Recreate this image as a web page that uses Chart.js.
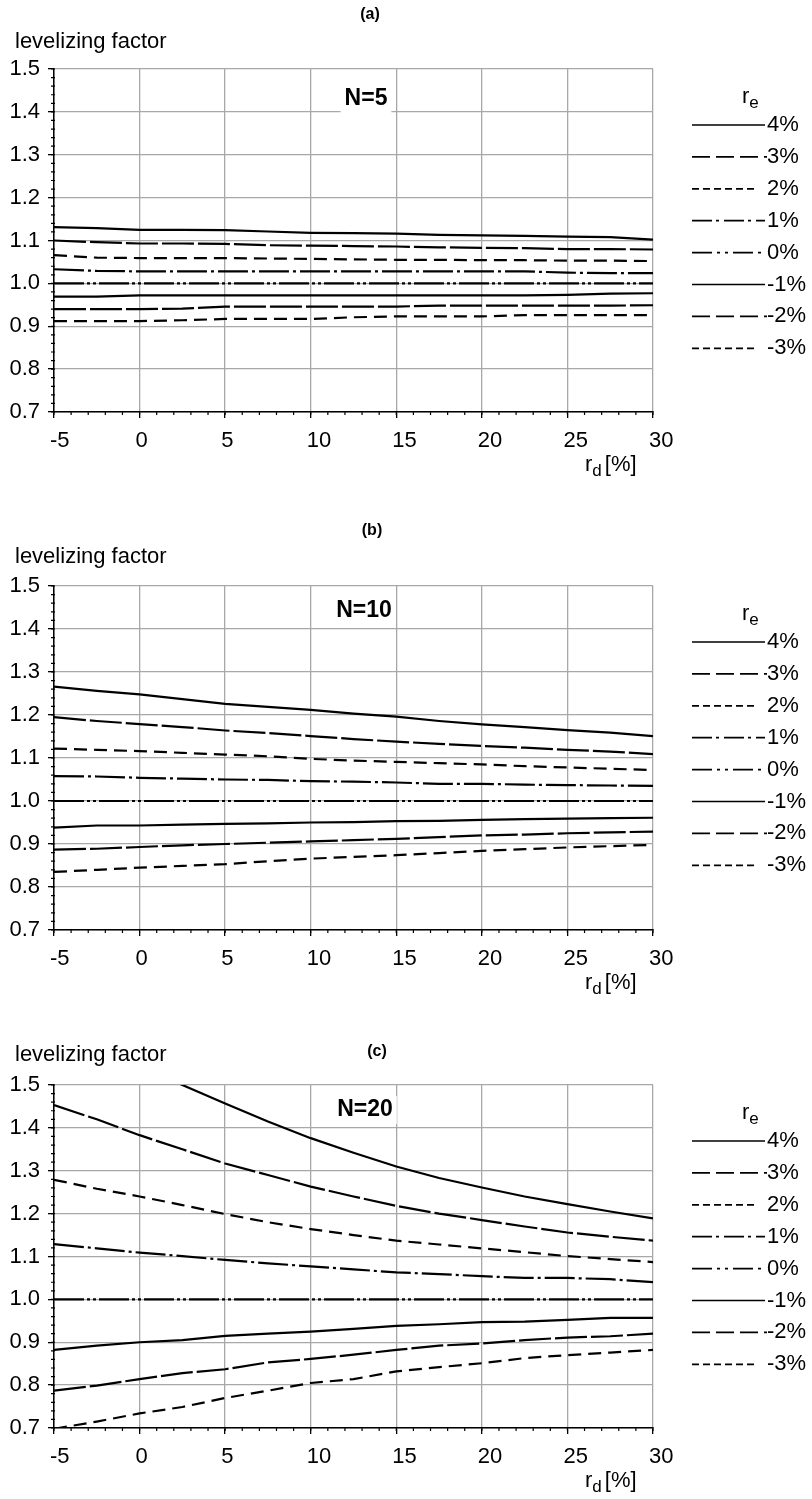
<!DOCTYPE html>
<html>
<head>
<meta charset="utf-8">
<script src="https://cdn.jsdelivr.net/npm/chart.js@4.4.1/dist/chart.umd.min.js"></script>
<style>
  html, body { margin: 0; padding: 0; background: #fff; }
  #wrap { position: relative; width: 812px; height: 1499px; }
  canvas { position: absolute; left: 0; }
</style>
</head>
<body>
<div id="wrap">
  <canvas id="chartA" width="812" height="500" style="top:0px"></canvas>
  <canvas id="chartB" width="812" height="500" style="top:500px"></canvas>
  <canvas id="chartC" width="812" height="499" style="top:1000px"></canvas>
</div>
<script>
// x values (r_d in %)
const rd = [-5, -2.5, 0, 2.5, 5, 7.5, 10, 12.5, 15, 17.5, 20, 22.5, 25, 27.5, 30];
const xTicks = [-5, 0, 5, 10, 15, 20, 25, 30];
const yTicks = [0.7, 0.8, 0.9, 1.0, 1.1, 1.2, 1.3, 1.4, 1.5];
const reLabels = ["4%", "3%", "2%", "1%", "0%", "-1%", "-2%", "-3%"];
const lineStyles = ["solid", "long", "short", "dashDot", "dashDotDot", "solid", "long", "short"];

// (a) N=5
const n5_4 = [1.131, 1.129, 1.125, 1.125, 1.124, 1.121, 1.118, 1.117, 1.116, 1.113, 1.112, 1.111, 1.109, 1.108, 1.102];
const n5_3 = [1.100, 1.096, 1.093, 1.093, 1.092, 1.089, 1.088, 1.087, 1.086, 1.084, 1.083, 1.082, 1.080, 1.080, 1.079];
const n5_2 = [1.066, 1.060, 1.059, 1.059, 1.059, 1.058, 1.057, 1.056, 1.055, 1.055, 1.054, 1.054, 1.053, 1.053, 1.052];
const n5_1 = [1.033, 1.029, 1.028, 1.028, 1.028, 1.028, 1.028, 1.028, 1.028, 1.028, 1.028, 1.028, 1.025, 1.024, 1.024];
const n5_0 = [1.000, 1.000, 1.000, 1.000, 1.000, 1.000, 1.000, 1.000, 1.000, 1.000, 1.000, 1.000, 1.000, 1.000, 1.000];
const n5_m1 = [0.969, 0.969, 0.972, 0.972, 0.972, 0.972, 0.972, 0.972, 0.972, 0.972, 0.972, 0.972, 0.973, 0.976, 0.977];
const n5_m2 = [0.940, 0.940, 0.940, 0.941, 0.946, 0.946, 0.946, 0.946, 0.946, 0.948, 0.948, 0.948, 0.948, 0.948, 0.949];
const n5_m3 = [0.912, 0.912, 0.912, 0.914, 0.917, 0.917, 0.917, 0.921, 0.923, 0.923, 0.923, 0.926, 0.926, 0.926, 0.926];

// (b) N=10
const n10_4 = [1.266, 1.256, 1.248, 1.237, 1.226, 1.219, 1.212, 1.203, 1.196, 1.186, 1.178, 1.172, 1.165, 1.159, 1.151];
const n10_3 = [1.195, 1.186, 1.179, 1.172, 1.164, 1.158, 1.151, 1.144, 1.138, 1.133, 1.128, 1.124, 1.119, 1.115, 1.109];
const n10_2 = [1.122, 1.119, 1.116, 1.112, 1.108, 1.104, 1.098, 1.094, 1.091, 1.088, 1.085, 1.081, 1.078, 1.075, 1.072];
const n10_1 = [1.058, 1.057, 1.054, 1.052, 1.050, 1.049, 1.046, 1.045, 1.043, 1.040, 1.040, 1.038, 1.037, 1.036, 1.035];
const n10_0 = [1.000, 1.000, 1.000, 1.000, 1.000, 1.000, 1.000, 1.000, 1.000, 1.000, 1.000, 1.000, 1.000, 1.000, 1.000];
const n10_m1 = [0.938, 0.943, 0.943, 0.945, 0.947, 0.948, 0.950, 0.951, 0.953, 0.954, 0.956, 0.958, 0.959, 0.960, 0.961];
const n10_m2 = [0.887, 0.889, 0.893, 0.897, 0.900, 0.903, 0.906, 0.909, 0.912, 0.916, 0.920, 0.922, 0.925, 0.927, 0.929];
const n10_m3 = [0.835, 0.840, 0.845, 0.849, 0.853, 0.860, 0.866, 0.870, 0.874, 0.879, 0.884, 0.888, 0.892, 0.895, 0.898];

// (c) N=20
const n20_4 = [1.650, 1.595, 1.545, 1.500, 1.457, 1.415, 1.376, 1.342, 1.310, 1.283, 1.261, 1.240, 1.222, 1.205, 1.189];
const n20_3 = [1.453, 1.420, 1.383, 1.350, 1.317, 1.290, 1.263, 1.240, 1.218, 1.200, 1.185, 1.170, 1.156, 1.146, 1.137];
const n20_2 = [1.279, 1.258, 1.240, 1.220, 1.199, 1.180, 1.164, 1.150, 1.137, 1.128, 1.119, 1.110, 1.101, 1.094, 1.087];
const n20_1 = [1.129, 1.119, 1.109, 1.101, 1.092, 1.084, 1.077, 1.070, 1.063, 1.059, 1.054, 1.050, 1.050, 1.047, 1.040];
const n20_0 = [1.000, 1.000, 1.000, 1.000, 1.000, 1.000, 1.000, 1.000, 1.000, 1.000, 1.000, 1.000, 1.000, 1.000, 1.000];
const n20_m1 = [0.882, 0.892, 0.900, 0.905, 0.915, 0.920, 0.925, 0.931, 0.938, 0.942, 0.947, 0.948, 0.952, 0.957, 0.957];
const n20_m2 = [0.787, 0.799, 0.814, 0.828, 0.837, 0.853, 0.861, 0.871, 0.882, 0.892, 0.897, 0.905, 0.911, 0.914, 0.920];
const n20_m3 = [0.698, 0.715, 0.734, 0.749, 0.770, 0.787, 0.805, 0.814, 0.832, 0.842, 0.851, 0.863, 0.870, 0.876, 0.882];

// dash patterns: in the plot and in the legend
const plotDash = { solid: [], long: [32, 4], short: [13, 7], dashDot: [30, 4, 3, 4], dashDotDot: [30, 3, 3, 3, 3, 3] };
const legendDash = { solid: [], long: [18, 6], short: [7, 4], dashDot: [20, 4, 3, 5], dashDotDot: [20, 5, 3, 5, 3, 5] };
const legendLen = { solid: 73, long: 75, short: 62, dashDot: 73, dashDotDot: 73 };

const FONT = "'Liberation Sans', Arial, Helvetica, sans-serif";
Chart.defaults.font.family = FONT;
Chart.defaults.font.size = 22;
Chart.defaults.color = "#000";

const decor = {
  id: "decor",
  afterDraw(chart, args, o) {
    const ctx = chart.ctx;
    const area = chart.chartArea;
    const xs = chart.scales.x;
    const ys = chart.scales.y;
    ctx.save();

    // minor ticks
    ctx.strokeStyle = "#000";
    ctx.lineWidth = 1.2;
    ctx.beginPath();
    for (let k = 0; k <= 40; k++) {
      const y = ys.getPixelForValue(0.7 + k * 0.02);
      ctx.moveTo(area.left - 3, y);
      ctx.lineTo(area.left + 1, y);
    }
    for (let v = -5; v <= 30; v++) {
      const x = xs.getPixelForValue(v);
      ctx.moveTo(x, area.bottom - 1);
      ctx.lineTo(x, area.bottom + 3);
    }
    ctx.stroke();

    ctx.fillStyle = "#000";
    ctx.textBaseline = "middle";

    // panel tag
    ctx.font = "bold 16px " + FONT;
    ctx.textAlign = "center";
    ctx.fillText(o.tag, o.tagX, o.tagY);

    // y title
    ctx.font = "22px " + FONT;
    ctx.textAlign = "left";
    ctx.fillText("levelizing factor", 15, o.labelY);

    // N label with white box
    ctx.font = "bold 23px " + FONT;
    const nw = ctx.measureText(o.n).width;
    ctx.fillStyle = "#fff";
    ctx.fillRect(o.nX - nw / 2 - 4, o.nY - 14, nw + 8, 28);
    ctx.fillStyle = "#000";
    ctx.textAlign = "center";
    ctx.fillText(o.n, o.nX, o.nY);

    // x title: r_d [%]
    ctx.textAlign = "left";
    ctx.font = "22px " + FONT;
    let x = 585;
    const yb = area.bottom + 53;
    ctx.fillText("r", x, yb);
    x += ctx.measureText("r").width;
    ctx.font = "17px " + FONT;
    ctx.fillText("d", x, yb + 6);
    x += ctx.measureText("d").width + 3;
    ctx.font = "22px " + FONT;
    ctx.fillText("[%]", x, yb);

    // legend
    const lx = 692;
    const ly0 = area.top + 56;
    ctx.font = "22px " + FONT;
    ctx.fillText("r", 742, area.top + 28);
    const rw = ctx.measureText("r").width;
    ctx.font = "17px " + FONT;
    ctx.fillText("e", 742 + rw, area.top + 34);
    ctx.font = "22px " + FONT;
    chart.data.datasets.forEach((ds, i) => {
      const st = lineStyles[i];
      const y = ly0 + i * 31.9;
      ctx.strokeStyle = "#000";
      ctx.lineWidth = 1.7;
      ctx.setLineDash(legendDash[st]);
      ctx.beginPath();
      ctx.moveTo(lx, y);
      ctx.lineTo(lx + legendLen[st], y);
      ctx.stroke();
      ctx.setLineDash([]);
      ctx.fillText(ds.label, 767, y);
    });

    ctx.restore();
  }
};

function makeChart(id, series, opts) {
  const datasets = series.map((vals, i) => ({
    label: reLabels[i],
    data: rd.map((x, j) => ({ x: x, y: vals[j] })),
    borderColor: "#000",
    borderWidth: 2.2,
    borderDash: plotDash[lineStyles[i]],
    pointRadius: 0,
    fill: false,
    tension: 0
  }));

  new Chart(document.getElementById(id), {
    type: "line",
    data: { datasets },
    options: {
      responsive: false,
      animation: false,
      events: [],
      layout: {
        padding: { left: 0, right: 159, top: opts.plotTop, bottom: opts.padBottom }
      },
      scales: {
        x: {
          type: "linear",
          min: -5,
          max: 30,
          afterBuildTicks: (s) => { s.ticks = xTicks.map((v) => ({ value: v })); },
          afterFit: (s) => { s.height = 40; },
          ticks: { align: "start", labelOffset: -4, padding: 10, maxRotation: 0, autoSkip: false, font: { size: 22 } },
          grid: { color: "#a8a8a8", lineWidth: 1.3, tickColor: "#000", tickLength: 6, tickWidth: 1.3 },
          border: { color: "#000", width: 1.5 }
        },
        y: {
          min: 0.7,
          max: 1.5,
          afterBuildTicks: (s) => { s.ticks = yTicks.map((v) => ({ value: v })); },
          afterFit: (s) => { s.width = 54; },
          ticks: { padding: 8, callback: (v) => Number(v).toFixed(1), font: { size: 22 } },
          grid: { color: "#a8a8a8", lineWidth: 1.3, tickColor: "#000", tickLength: 6, tickWidth: 1.3 },
          border: { color: "#000", width: 1.5 }
        }
      },
      plugins: {
        legend: { display: false },
        tooltip: { enabled: false },
        decor: opts
      }
    },
    plugins: [decor]
  });
}

makeChart("chartA", [n5_4, n5_3, n5_2, n5_1, n5_0, n5_m1, n5_m2, n5_m3],
  { plotTop: 69, padBottom: 48, tag: "(a)", tagX: 370, tagY: 15, labelY: 42, n: "N=5", nX: 366, nY: 99 });
makeChart("chartB", [n10_4, n10_3, n10_2, n10_1, n10_0, n10_m1, n10_m2, n10_m3],
  { plotTop: 86, padBottom: 30, tag: "(b)", tagX: 372, tagY: 31, labelY: 57, n: "N=10", nX: 364, nY: 111 });
makeChart("chartC", [n20_4, n20_3, n20_2, n20_1, n20_0, n20_m1, n20_m2, n20_m3],
  { plotTop: 85, padBottom: 31, tag: "(c)", tagX: 377, tagY: 52, labelY: 55, n: "N=20", nX: 365, nY: 110 });
</script>
</body>
</html>
